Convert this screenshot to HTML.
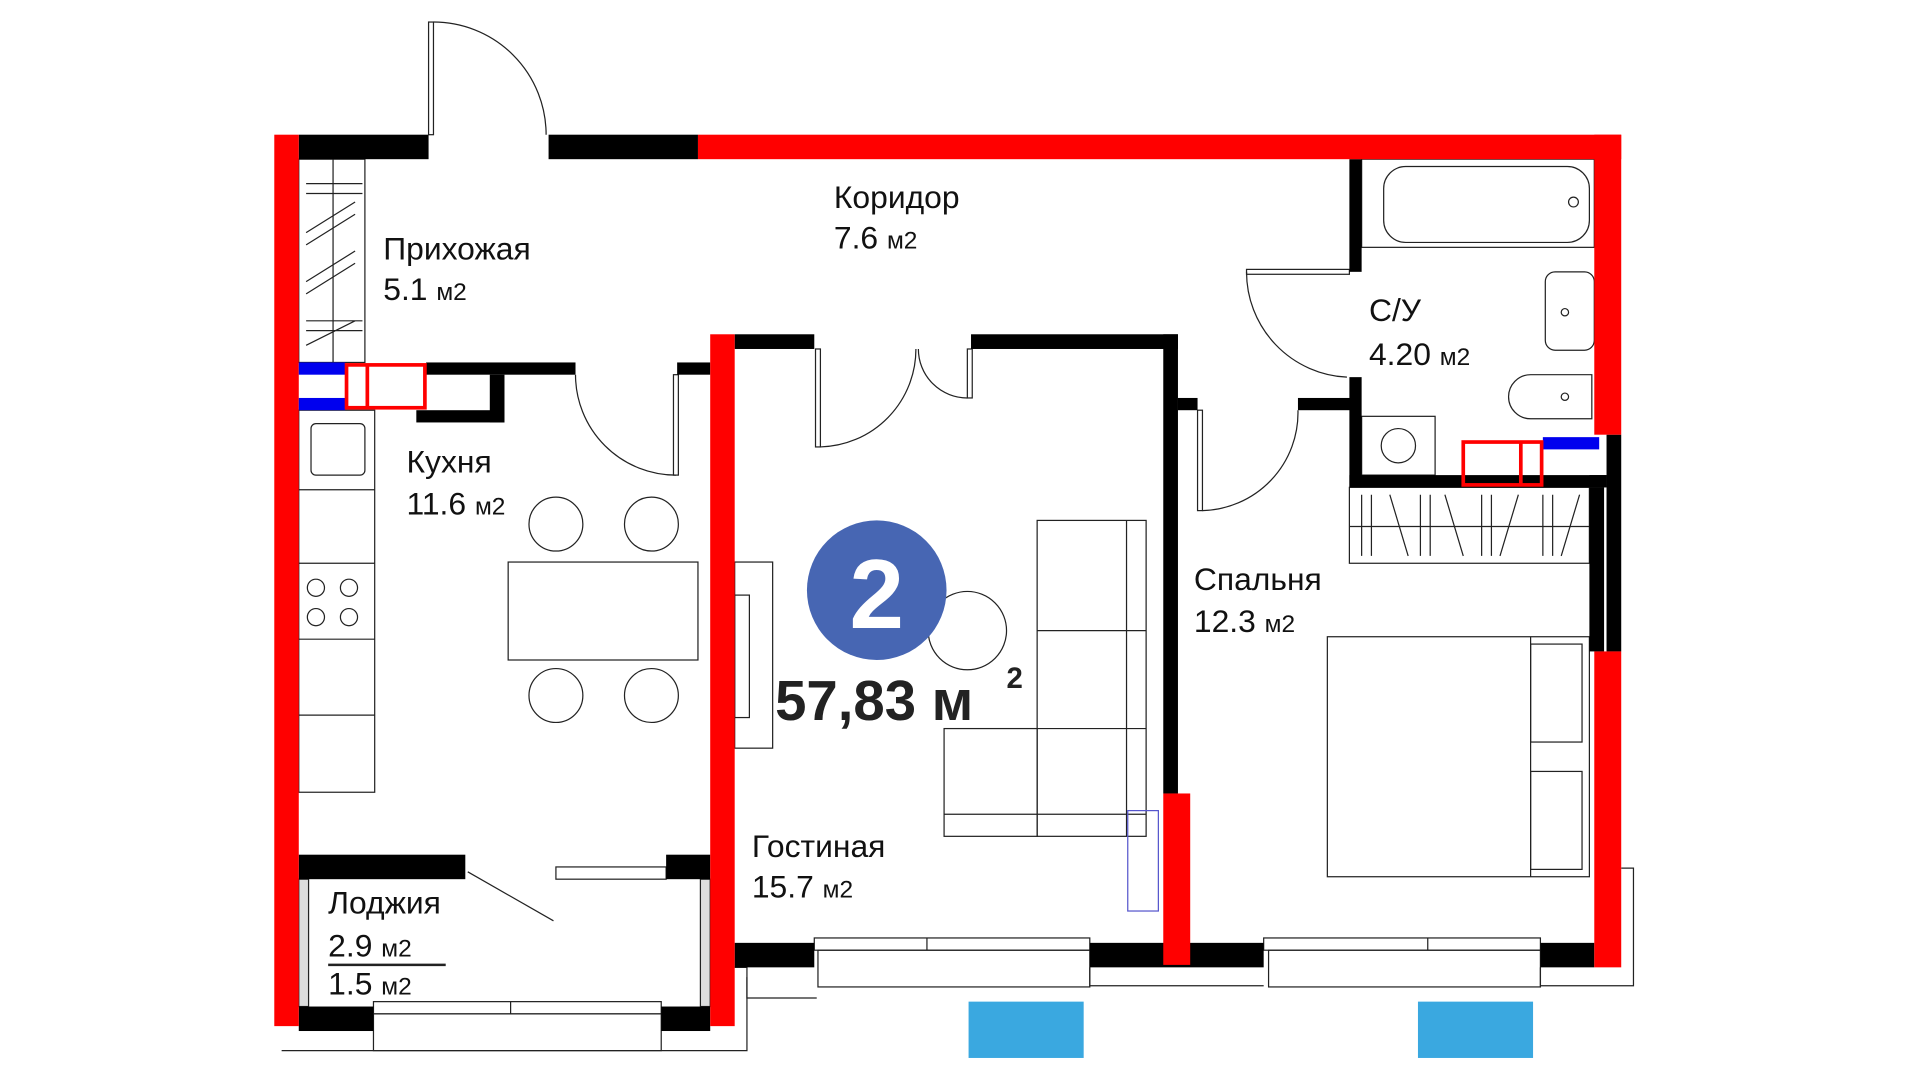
<!DOCTYPE html>
<html><head><meta charset="utf-8"><style>
html,body{margin:0;padding:0;background:#fff;width:1920px;height:1080px;overflow:hidden}
svg{display:block}
text{font-family:"Liberation Sans",sans-serif;fill:#111}
</style></head><body>
<svg width="1920" height="1080" viewBox="0 0 1568 882" preserveAspectRatio="none" xmlns="http://www.w3.org/2000/svg">
<g fill="none" stroke="#222" stroke-width="1">
<rect x="350" y="18" width="4" height="92"/>
<path d="M354 18 A92 92 0 0 1 446 110"/>
<path d="M470 306 A82 82 0 0 0 552 388"/><rect x="550" y="306" width="4" height="82"/>
<rect x="666" y="285" width="4" height="80"/><path d="M670 365 A80 80 0 0 0 748 285"/>
<rect x="790" y="285" width="4" height="40"/><path d="M790 325 A40 40 0 0 1 750 285"/>
<path d="M1018 222 A86 86 0 0 0 1100 308"/><rect x="1018" y="220" width="84" height="4"/>
<rect x="978" y="335" width="4" height="82"/><path d="M982 417 A80 80 0 0 0 1060 335"/>
<rect x="244" y="130" width="54" height="166"/>
<line x1="272" y1="130" x2="272" y2="296"/>
<path d="M250 150h46M250 158h46M250 190l40 -25M250 200l40 -25M250 230l40 -25M250 240l40 -25M250 262h46M250 270h46M250 282l40-20"/>
<rect x="244" y="335" width="62" height="312"/>
<rect x="254" y="346" width="44" height="42" rx="4"/>
<line x1="244" y1="400" x2="306" y2="400"/><line x1="244" y1="460" x2="306" y2="460"/><line x1="244" y1="522" x2="306" y2="522"/><line x1="244" y1="584" x2="306" y2="584"/>
<circle cx="258" cy="480" r="7"/><circle cx="285" cy="480" r="7"/><circle cx="258" cy="504" r="7"/><circle cx="285" cy="504" r="7"/>
<rect x="415" y="459" width="155" height="80"/>
<circle cx="454" cy="428" r="22"/><circle cx="532" cy="428" r="22"/><circle cx="454" cy="568" r="22"/><circle cx="532" cy="568" r="22"/>
<rect x="600" y="459" width="31" height="152"/><rect x="600" y="486" width="12" height="100"/>
<circle cx="790" cy="515" r="32"/>
<rect x="847" y="425" width="89" height="258"/><line x1="847" y1="515" x2="936" y2="515"/><line x1="847" y1="595" x2="936" y2="595"/><line x1="920" y1="425" x2="920" y2="683"/>
<rect x="771" y="595" width="76" height="88"/><line x1="771" y1="665" x2="936" y2="665"/>
<rect x="921" y="662" width="25" height="82" stroke="#5555cc"/>
<rect x="1112" y="130" width="190" height="72"/><rect x="1130" y="136" width="168" height="62" rx="18"/><circle cx="1285" cy="165" r="4"/>
<rect x="1262" y="222" width="40" height="64" rx="8"/><circle cx="1278" cy="255" r="3"/>
<path d="M1300 306 h-50 a18 18 0 0 0 0 36 h50z"/><circle cx="1278" cy="324" r="3"/>
<rect x="1112" y="340" width="60" height="48"/><circle cx="1142" cy="364" r="14"/>
<rect x="1102" y="398" width="196" height="62"/><line x1="1102" y1="430" x2="1298" y2="430"/>
<path d="M1112 404v50M1120 404v50M1135 404l15 50M1160 404v50M1168 404v50M1180 404l15 50M1210 404v50M1218 404v50M1240 404l-15 50M1260 404v50M1268 404v50M1290 404l-15 50"/>
<rect x="1084" y="520" width="214" height="196"/><rect x="1250" y="526" width="42" height="80"/><rect x="1250" y="630" width="42" height="80"/><line x1="1250" y1="520" x2="1250" y2="716"/>
<rect x="665" y="766" width="225" height="10"/><rect x="1032" y="766" width="226" height="10"/>
<rect x="668" y="776" width="222" height="30"/><rect x="1036" y="776" width="222" height="30"/>
<line x1="757" y1="766" x2="757" y2="776"/><line x1="1166" y1="766" x2="1166" y2="776"/>
<rect x="305" y="818" width="235" height="10"/><rect x="305" y="828" width="235" height="30"/><line x1="417" y1="818" x2="417" y2="828"/>
<rect x="454" y="708" width="90" height="10"/>
<path d="M382 712 l70 40"/>
<path d="M600 790 h10 v25 h57 M890 790 v15 h142 M1258 790 v15 h76 v-96 h-10"/>
<path d="M230 858 h380 v-60" />
<line x1="268" y1="788" x2="364" y2="788" stroke-width="2"/>
<rect x="244" y="718" width="8" height="104" fill="#ddd"/><rect x="572" y="718" width="8" height="104" fill="#ddd"/>
</g>
<g fill="#000">
<rect x="244" y="110" width="106" height="20"/><rect x="448" y="110" width="122" height="20"/>
<rect x="348" y="296" width="122" height="10"/><rect x="553" y="296" width="27" height="10"/>
<rect x="400" y="306" width="12" height="39"/><rect x="340" y="335" width="72" height="10"/>
<rect x="600" y="273" width="65" height="12"/><rect x="793" y="273" width="169" height="12"/>
<rect x="950" y="273" width="12" height="375"/>
<rect x="962" y="325" width="16" height="10"/><rect x="1060" y="325" width="50" height="10"/>
<rect x="1102" y="130" width="10" height="92"/><rect x="1102" y="308" width="10" height="90"/>
<rect x="1102" y="388" width="210" height="10"/>
<rect x="1312" y="355" width="12" height="177"/><rect x="1298" y="388" width="14" height="10"/><rect x="1298" y="398" width="12" height="134"/>
<rect x="600" y="770" width="65" height="20"/><rect x="890" y="770" width="142" height="20"/><rect x="1258" y="770" width="44" height="20"/>
<rect x="244" y="698" width="136" height="20"/><rect x="544" y="698" width="36" height="20"/>
<rect x="244" y="822" width="61" height="20"/><rect x="540" y="822" width="40" height="20"/>
</g>
<g fill="#ff0000">
<rect x="224" y="110" width="20" height="728"/>
<rect x="570" y="110" width="754" height="20"/>
<rect x="1302" y="110" width="22" height="245"/>
<rect x="1302" y="532" width="22" height="258"/>
<rect x="580" y="273" width="20" height="565"/>
<rect x="950" y="648" width="22" height="140"/>
</g>
<g fill="#0000ee">
<rect x="244" y="296" width="38" height="10"/><rect x="244" y="325" width="38" height="10"/>
<rect x="1260" y="357" width="46" height="10"/>
</g>
<g fill="none" stroke="#ff0000" stroke-width="3">
<rect x="283" y="298" width="64" height="35"/><line x1="300" y1="298" x2="300" y2="333"/>
<rect x="1195" y="361" width="64" height="35"/><line x1="1242" y1="361" x2="1242" y2="396"/>
</g>
<rect x="791" y="818" width="94" height="46" fill="#3aa8e0"/>
<rect x="1158" y="818" width="94" height="46" fill="#3aa8e0"/>
<circle cx="716" cy="482" r="57" fill="#4766b3"/>
<text x="716" y="513" font-size="80" font-weight="bold" text-anchor="middle" style="fill:#fff">2</text>
<g font-size="26">
<text x="313" y="212">Прихожая</text><text x="313" y="245">5.1 <tspan font-size="20">м2</tspan></text>
<text x="681" y="170">Коридор</text><text x="681" y="203">7.6 <tspan font-size="20">м2</tspan></text>
<text x="1118" y="262">С/У</text><text x="1118" y="298">4.20 <tspan font-size="20">м2</tspan></text>
<text x="332" y="386">Кухня</text><text x="332" y="420">11.6 <tspan font-size="20">м2</tspan></text>
<text x="975" y="482">Спальня</text><text x="975" y="516">12.3 <tspan font-size="20">м2</tspan></text>
<text x="614" y="700">Гостиная</text><text x="614" y="733">15.7 <tspan font-size="20">м2</tspan></text>
<text x="268" y="746">Лоджия</text><text x="268" y="781">2.9 <tspan font-size="20">м2</tspan></text>
<text x="268" y="812">1.5 <tspan font-size="20">м2</tspan></text>
</g>
<text x="633" y="588" font-size="46" font-weight="bold" style="fill:#222">57,83 м</text>
<text x="822" y="562" font-size="24" font-weight="bold" style="fill:#222">2</text>
</svg>
</body></html>
